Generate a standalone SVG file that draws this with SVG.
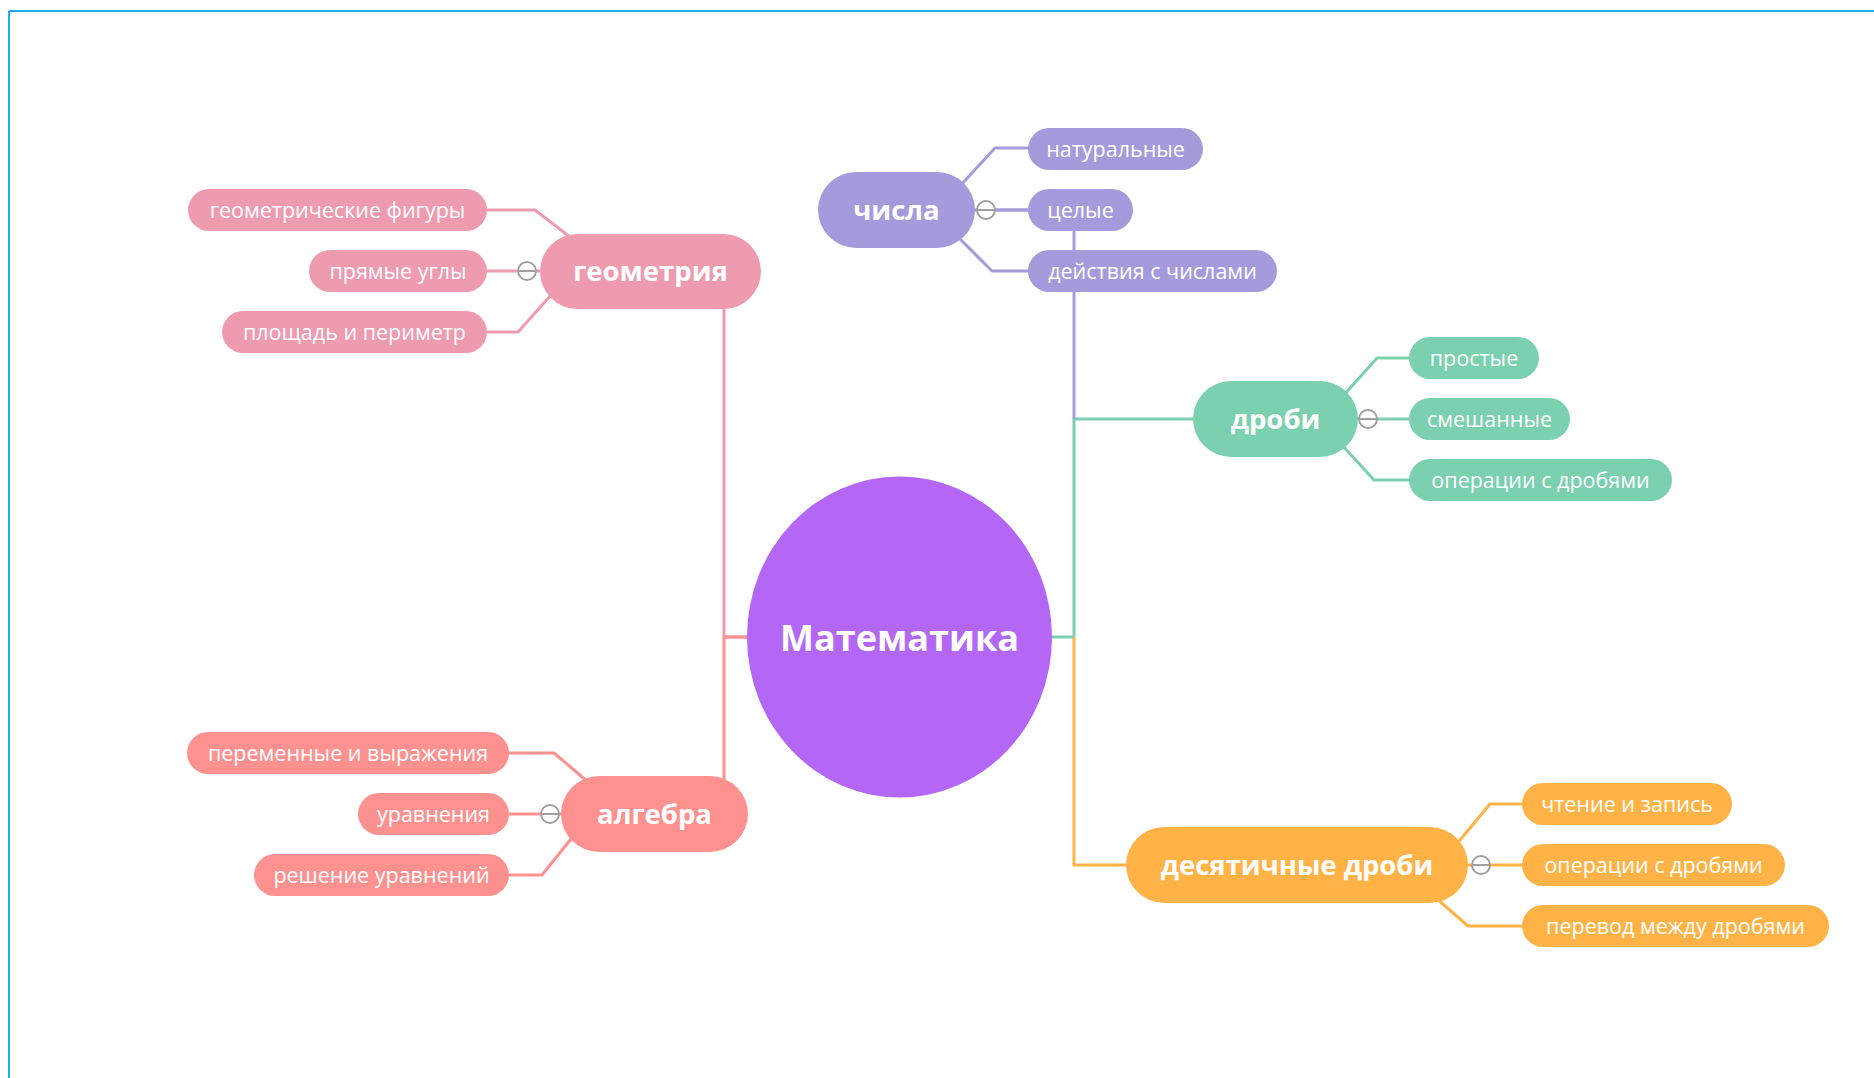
<svg xmlns="http://www.w3.org/2000/svg" width="1874" height="1078" viewBox="0 0 1874 1078">
<style>
.c{fill:none;stroke-width:3;stroke-linejoin:round}
.geo{stroke:#ee9aaf}.alg{stroke:#fc918f}.num{stroke:#a59bdc}.fr{stroke:#7ad0af}.dec{stroke:#ffb347}
.fgeo{fill:#ee9aaf}.falg{fill:#fc918f}.fnum{fill:#a59bdc}.ffr{fill:#7ad0af}.fdec{fill:#ffb347}
.t{font-family:"Open Sans","Liberation Sans",sans-serif;font-size:21.5px;fill:#fff;text-anchor:middle}
.tm{font-family:"Open Sans","Liberation Sans",sans-serif;font-size:27.5px;font-weight:bold;fill:#fff;text-anchor:middle}
.tc{font-family:"Open Sans","Liberation Sans",sans-serif;font-size:36px;font-weight:bold;fill:#fff;text-anchor:middle}
.col{fill:#fff;stroke:#a0a0a0;stroke-width:2}
.colm{stroke:#a0a0a0;stroke-width:2}
</style>
<rect width="1874" height="1078" fill="#fff"/>
<g id="frame">
<line x1="9" y1="11" x2="1874" y2="11" stroke="#1ab0ee" stroke-width="2"/>
<line x1="9" y1="11" x2="9" y2="1078" stroke="#1ab0ee" stroke-width="2"/>
</g>
<g id="connectors">
<path class="c geo" d="M747,637 H724 V300"/>
<path class="c alg" d="M724,637 V800"/>
<path class="c alg" d="M724,637 H747"/>
<path class="c fr" d="M1052,637 H1074 V419 H1200"/>
<path class="c num" d="M1074,419 V210 H975"/>
<path class="c dec" d="M1074,637 V865 H1130"/>
<path class="c geo" d="M487,210 H535 L570,237"/>
<path class="c geo" d="M487,271 H545"/>
<path class="c geo" d="M487,332 H518 L552,294"/>
<path class="c alg" d="M509,753 H554 L588,782"/>
<path class="c alg" d="M509,814 H565"/>
<path class="c alg" d="M509,875 H542 L575,834"/>
<path class="c num" d="M960,186 L995,148 H1030"/>
<path class="c num" d="M975,210 H1030"/>
<path class="c num" d="M958,237 L992,271 H1030"/>
<path class="c fr" d="M1343,396 L1377,358 H1411"/>
<path class="c fr" d="M1350,419 H1411"/>
<path class="c fr" d="M1341,444 L1374,480 H1411"/>
<path class="c dec" d="M1455,846 L1490,804 H1524"/>
<path class="c dec" d="M1460,865 H1524"/>
<path class="c dec" d="M1436,898 L1468,926 H1524"/>
</g>
<g id="center">
<ellipse cx="899.5" cy="637" rx="152.5" ry="160.5" fill="#b467f5"/>
<text class="tc" x="899.5" y="651">Математика</text>
</g>
<g id="geometry">
<rect class="fgeo" x="540" y="234" width="221" height="75" rx="37.5"/>
<text class="tm" x="650.5" y="281">геометрия</text>
</g>
<g id="algebra">
<rect class="falg" x="561" y="776" width="187" height="76" rx="38"/>
<text class="tm" x="654.5" y="824">алгебра</text>
</g>
<g id="numbers">
<rect class="fnum" x="818" y="172" width="157" height="76" rx="38"/>
<text class="tm" x="896.5" y="220">числа</text>
</g>
<g id="fractions">
<rect class="ffr" x="1193" y="381" width="165" height="76" rx="38"/>
<text class="tm" x="1275.5" y="429">дроби</text>
</g>
<g id="decimals">
<rect class="fdec" x="1126" y="827" width="342" height="76" rx="38"/>
<text class="tm" x="1297" y="875">десятичные дроби</text>
</g>
<g id="geo-1"><rect class="fgeo" x="188" y="189" width="299" height="42" rx="21"/><text class="t" x="337.5" y="218">геометрические фигуры</text></g>
<g id="geo-2"><rect class="fgeo" x="309" y="250" width="178" height="42" rx="21"/><text class="t" x="398" y="279">прямые углы</text></g>
<g id="geo-3"><rect class="fgeo" x="222" y="311" width="265" height="42" rx="21"/><text class="t" x="354.5" y="340">площадь и периметр</text></g>
<g id="alg-1"><rect class="falg" x="187" y="732" width="322" height="42" rx="21"/><text class="t" x="348" y="761">переменные и выражения</text></g>
<g id="alg-2"><rect class="falg" x="358" y="793" width="151" height="42" rx="21"/><text class="t" x="433.5" y="822">уравнения</text></g>
<g id="alg-3"><rect class="falg" x="254" y="854" width="255" height="42" rx="21"/><text class="t" x="381.5" y="883">решение уравнений</text></g>
<g id="num-1"><rect class="fnum" x="1028" y="128" width="175" height="42" rx="21"/><text class="t" x="1115.5" y="157">натуральные</text></g>
<g id="num-2"><rect class="fnum" x="1028" y="189" width="105" height="42" rx="21"/><text class="t" x="1080.5" y="218">целые</text></g>
<g id="num-3"><rect class="fnum" x="1028" y="250" width="249" height="42" rx="21"/><text class="t" x="1152.5" y="279">действия с числами</text></g>
<g id="fr-1"><rect class="ffr" x="1409" y="337" width="130" height="42" rx="21"/><text class="t" x="1474" y="366">простые</text></g>
<g id="fr-2"><rect class="ffr" x="1409" y="398" width="161" height="42" rx="21"/><text class="t" x="1489.5" y="427">смешанные</text></g>
<g id="fr-3"><rect class="ffr" x="1409" y="459" width="263" height="42" rx="21"/><text class="t" x="1540.5" y="488">операции с дробями</text></g>
<g id="dec-1"><rect class="fdec" x="1522" y="783" width="210" height="42" rx="21"/><text class="t" x="1627" y="812">чтение и запись</text></g>
<g id="dec-2"><rect class="fdec" x="1522" y="844" width="263" height="42" rx="21"/><text class="t" x="1653.5" y="873">операции с дробями</text></g>
<g id="dec-3"><rect class="fdec" x="1522" y="905" width="307" height="42" rx="21"/><text class="t" x="1675.5" y="934">перевод между дробями</text></g>
<g id="collapse">
<circle class="col" cx="527" cy="271" r="9"/><line class="colm" x1="518" y1="271" x2="536" y2="271"/>
<circle class="col" cx="550" cy="814" r="9"/><line class="colm" x1="541" y1="814" x2="559" y2="814"/>
<circle class="col" cx="986" cy="210" r="9"/><line class="colm" x1="977" y1="210" x2="995" y2="210"/>
<circle class="col" cx="1368" cy="419" r="9"/><line class="colm" x1="1359" y1="419" x2="1377" y2="419"/>
<circle class="col" cx="1481" cy="865" r="9"/><line class="colm" x1="1472" y1="865" x2="1490" y2="865"/>
</g>
</svg>
